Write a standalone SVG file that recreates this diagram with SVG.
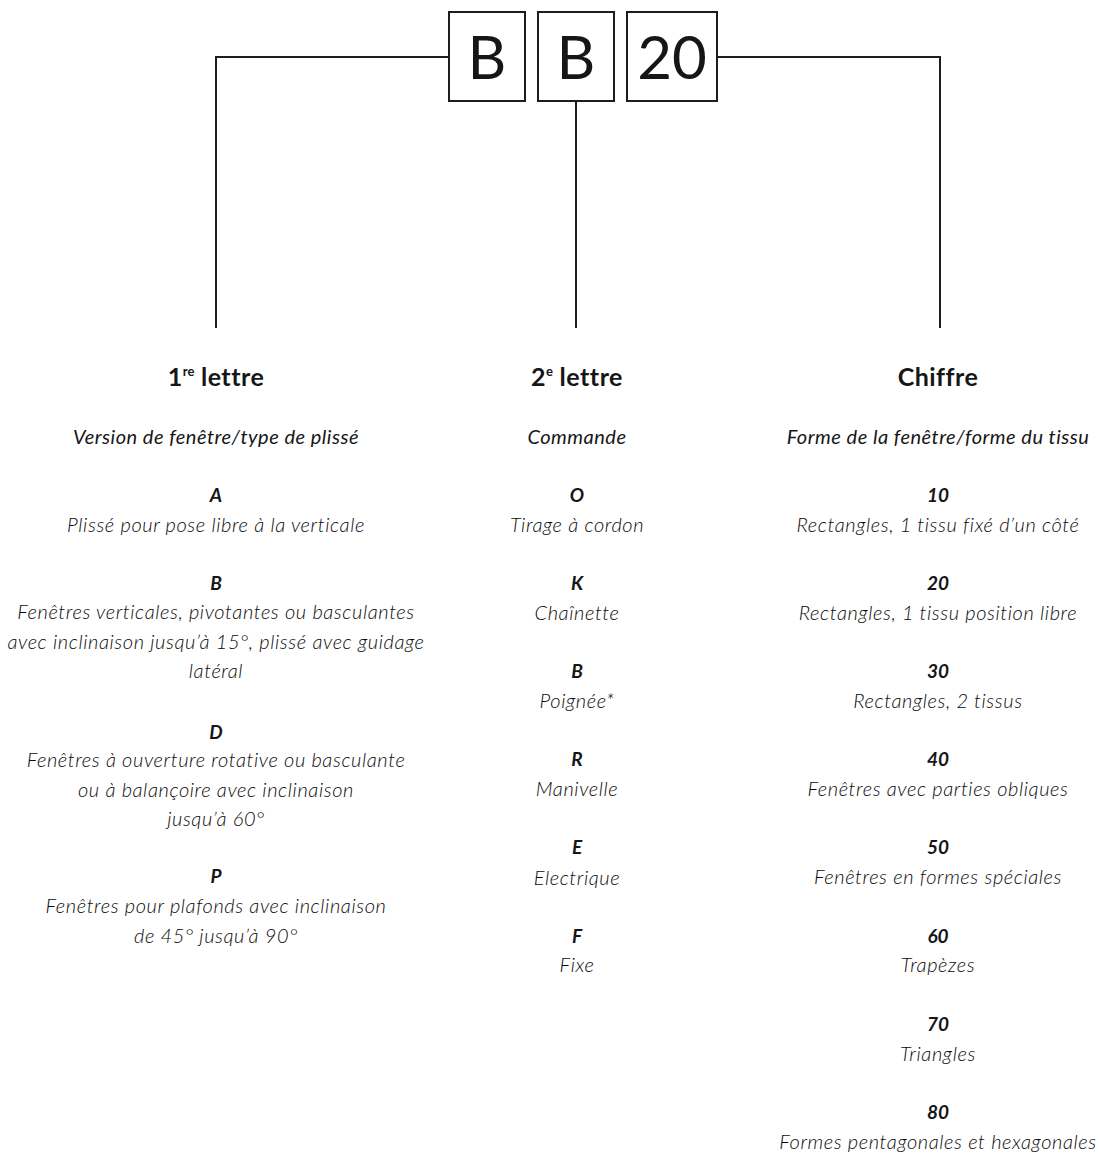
<svg xmlns="http://www.w3.org/2000/svg" width="1099" height="1155" viewBox="0 0 1099 1155">
<style>
text{font-family:Lato,"Open Sans","Liberation Sans",sans-serif;fill:#161616;text-anchor:middle}
.box{fill:#fff;stroke:#1d1d1b;stroke-width:2}
.code{font-size:60px;font-weight:400}
.h{font-size:25px;font-weight:700;letter-spacing:0.5px}
.sup{font-size:13px;font-weight:700;letter-spacing:0}
.sub{font-size:20px;font-weight:400;font-style:italic;letter-spacing:0.5px}
.k{font-size:19px;font-weight:700;font-style:italic}
.d{font-size:20px;font-weight:300;font-style:italic;letter-spacing:0.6px;fill:#0a0a0a}
.ln{fill:none;stroke:#1d1d1b;stroke-width:2}
</style>
<rect width="1099" height="1155" fill="#fff"/>
<g id="connectors">
<path class="ln" d="M449,57 H216 V328"/>
<path class="ln" d="M717,57 H940 V328"/>
<path class="ln" d="M576,101 V328"/>
</g>
<g id="box1"><rect class="box" x="449" y="12" width="76" height="89"/><text class="code" x="487" y="79">B</text></g>
<g id="box2"><rect class="box" x="538" y="12" width="76" height="89"/><text class="code" x="576" y="79">B</text></g>
<g id="box3"><rect class="box" x="627" y="12" width="90" height="89"/><text class="code" x="672" y="79">20</text></g>
<g id="col1">
<text class="h" x="216" y="386">1<tspan class="sup" dy="-10">re</tspan><tspan dy="10"> lettre</tspan></text>
<text class="sub" x="216" y="444">Version de fenêtre/type de plissé</text>
<text class="k" x="216" y="502">A</text>
<text class="d" x="216" y="532">Plissé pour pose libre à la verticale</text>
<text class="k" x="216" y="590">B</text>
<text class="d" x="216" y="619">Fenêtres verticales, pivotantes ou basculantes</text>
<text class="d" x="216" y="649">avec inclinaison jusqu’à 15°, plissé avec guidage</text>
<text class="d" x="216" y="678">latéral</text>
<text class="k" x="216" y="739">D</text>
<text class="d" x="216" y="767">Fenêtres à ouverture rotative ou basculante</text>
<text class="d" x="216" y="797">ou à balançoire avec inclinaison</text>
<text class="d" x="216" y="826">jusqu’à 60°</text>
<text class="k" x="216" y="883">P</text>
<text class="d" x="216" y="913">Fenêtres pour plafonds avec inclinaison</text>
<text class="d" x="216" y="943">de 45° jusqu’à 90°</text>
</g>
<g id="col2">
<text class="h" x="577" y="386">2<tspan class="sup" dy="-10">e</tspan><tspan dy="10"> lettre</tspan></text>
<text class="sub" x="577" y="444">Commande</text>
<text class="k" x="577" y="502">O</text>
<text class="d" x="577" y="532">Tirage à cordon</text>
<text class="k" x="577" y="590">K</text>
<text class="d" x="577" y="620">Chaînette</text>
<text class="k" x="577" y="678">B</text>
<text class="d" x="577" y="708">Poignée*</text>
<text class="k" x="577" y="766">R</text>
<text class="d" x="577" y="796">Manivelle</text>
<text class="k" x="577" y="854">E</text>
<text class="d" x="577" y="885">Electrique</text>
<text class="k" x="577" y="943">F</text>
<text class="d" x="577" y="972">Fixe</text>
</g>
<g id="col3">
<text class="h" x="938" y="386">Chiffre</text>
<text class="sub" x="938" y="444">Forme de la fenêtre/forme du tissu</text>
<text class="k" x="938" y="502">10</text>
<text class="d" x="938" y="532">Rectangles, 1 tissu fixé d’un côté</text>
<text class="k" x="938" y="590">20</text>
<text class="d" x="938" y="620">Rectangles, 1 tissu position libre</text>
<text class="k" x="938" y="678">30</text>
<text class="d" x="938" y="708">Rectangles, 2 tissus</text>
<text class="k" x="938" y="766">40</text>
<text class="d" x="938" y="796">Fenêtres avec parties obliques</text>
<text class="k" x="938" y="854">50</text>
<text class="d" x="938" y="884">Fenêtres en formes spéciales</text>
<text class="k" x="938" y="943">60</text>
<text class="d" x="938" y="972">Trapèzes</text>
<text class="k" x="938" y="1031">70</text>
<text class="d" x="938" y="1061">Triangles</text>
<text class="k" x="938" y="1119">80</text>
<text class="d" x="938" y="1149">Formes pentagonales et hexagonales</text>
</g>
</svg>
